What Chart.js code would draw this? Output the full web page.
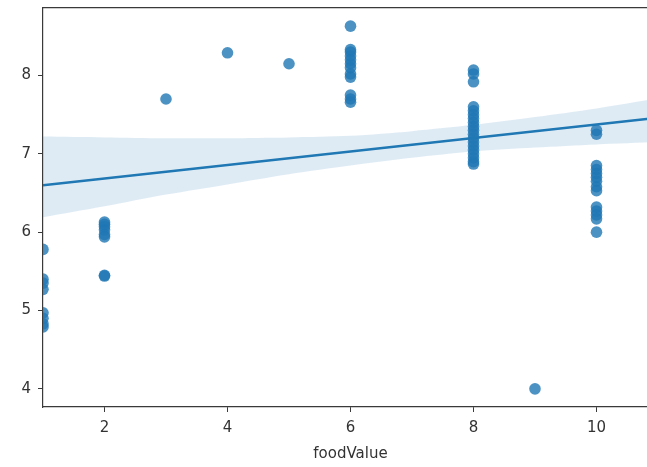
<!DOCTYPE html>
<html>
<head>
<meta charset="utf-8">
<script src="https://cdn.jsdelivr.net/npm/chart.js@4/dist/chart.umd.min.js"></script>
<style>
html,body{margin:0;padding:0;background:#fff;overflow:hidden;width:647px;height:467px;}
#wrap{width:680px;height:467px;}
</style>
</head>
<body>
<div id="wrap"><canvas id="c" width="680" height="467"></canvas></div>
<script>
// scatter data (foodValue vs score)
const pointX = [
  1,1,1,1,1,1,1,1,
  2,2,2,2,2,2,2,2,
  3,4,5,
  6,6,6,6,6,6,6,6,6,6,6,6,
  8,8,8,8,8,8,8,8,8,8,8,8,8,8,8,8,8,8,8,
  9,
  10,10,10,10,10,10,10,10,10,10,10,10,10,10
];
const pointY = [
  5.78,5.40,5.35,5.27,4.97,4.90,4.83,4.79,
  6.13,6.10,6.07,6.03,5.97,5.94,5.45,5.44,
  7.70,8.29,8.15,
  8.63,8.33,8.30,8.25,8.20,8.15,8.10,8.02,7.98,7.75,7.70,7.66,
  8.07,8.02,7.92,7.60,7.55,7.50,7.45,7.40,7.35,7.30,7.25,7.20,7.15,7.10,7.05,7.00,6.95,6.90,6.87,
  4.00,
  7.30,7.25,6.85,6.80,6.75,6.70,6.65,6.58,6.53,6.32,6.27,6.22,6.17,6.00
];
// regression line
const fitX = [1, 11];
const fitY = [6.60, 7.46];
// confidence band
const bandX     = [1,    2,    3,    4,    5,    6,    7,    8,    9,    10,   11];
const bandUpper = [7.22, 7.21, 7.20, 7.20, 7.21, 7.23, 7.29, 7.37, 7.47, 7.58, 7.71];
const bandLower = [6.19, 6.33, 6.48, 6.61, 6.74, 6.85, 6.95, 7.03, 7.08, 7.12, 7.15];
// axes
const xTicks = [2, 4, 6, 8, 10];
const yTicks = [4, 5, 6, 7, 8];
const xLabel = 'foodValue';

const blue = '#1f77b4';
const zip = (xs, ys) => xs.map((x, i) => ({x: x, y: ys[i]}));
const font = {family: 'DejaVu Sans', size: 15};
const axisColor = '#3a3a3a';

new Chart(document.getElementById('c'), {
  type: 'scatter',
  data: {
    datasets: [
      {data: zip(bandX, bandLower), showLine: true, borderWidth: 0, pointRadius: 0, borderColor: 'rgba(0,0,0,0)', order: 1, tension: 0.3},
      {data: zip(bandX, bandUpper), showLine: true, borderWidth: 0, pointRadius: 0, borderColor: 'rgba(0,0,0,0)',
       fill: 0, backgroundColor: 'rgba(31,119,180,0.15)', order: 1, tension: 0.3},
      {data: zip(fitX, fitY), showLine: true, borderColor: blue, borderWidth: 2.5, pointRadius: 0, order: 0},
      {data: zip(pointX, pointY), backgroundColor: 'rgba(31,119,180,0.8)', borderWidth: 0, pointRadius: 5.8, order: 2}
    ]
  },
  options: {
    responsive: false,
    animation: false,
    events: [],
    layout: {padding: {top: 8, right: 22, left: 0, bottom: 0}},
    plugins: {legend: {display: false}, tooltip: {enabled: false}},
    scales: {
      x: {
        type: 'linear', min: 1, max: 11,
        afterBuildTicks: s => { s.ticks = xTicks.map(v => ({value: v})); },
        afterFit: s => { s.height = 60; s.paddingLeft = 0; s.paddingRight = 0; },
        ticks: {color: '#333', font: font, padding: 7},
        grid: {display: true, drawOnChartArea: false, drawTicks: true, tickLength: 5, color: axisColor},
        border: {display: true, color: axisColor, width: 1.2},
        title: {display: true, text: xLabel, color: '#333', font: font, padding: {top: 0, bottom: 4}}
      },
      x2: {
        type: 'linear', position: 'top', min: 1, max: 11,
        ticks: {display: false},
        grid: {display: false, drawTicks: false},
        border: {display: true, color: axisColor, width: 1.2},
        afterFit: s => { s.height = 0; s.paddingLeft = 0; s.paddingRight = 0; }
      },
      y: {
        min: 3.768, max: 8.862,
        afterBuildTicks: s => { s.ticks = yTicks.map(v => ({value: v})); },
        afterFit: s => { s.width = 43; s.paddingTop = 0; s.paddingBottom = 0; },
        ticks: {color: '#333', font: font, padding: 7},
        grid: {display: true, drawOnChartArea: false, drawTicks: true, tickLength: 5, color: axisColor},
        border: {display: true, color: axisColor, width: 1.2}
      }
    }
  }
});
</script>
</body>
</html>
